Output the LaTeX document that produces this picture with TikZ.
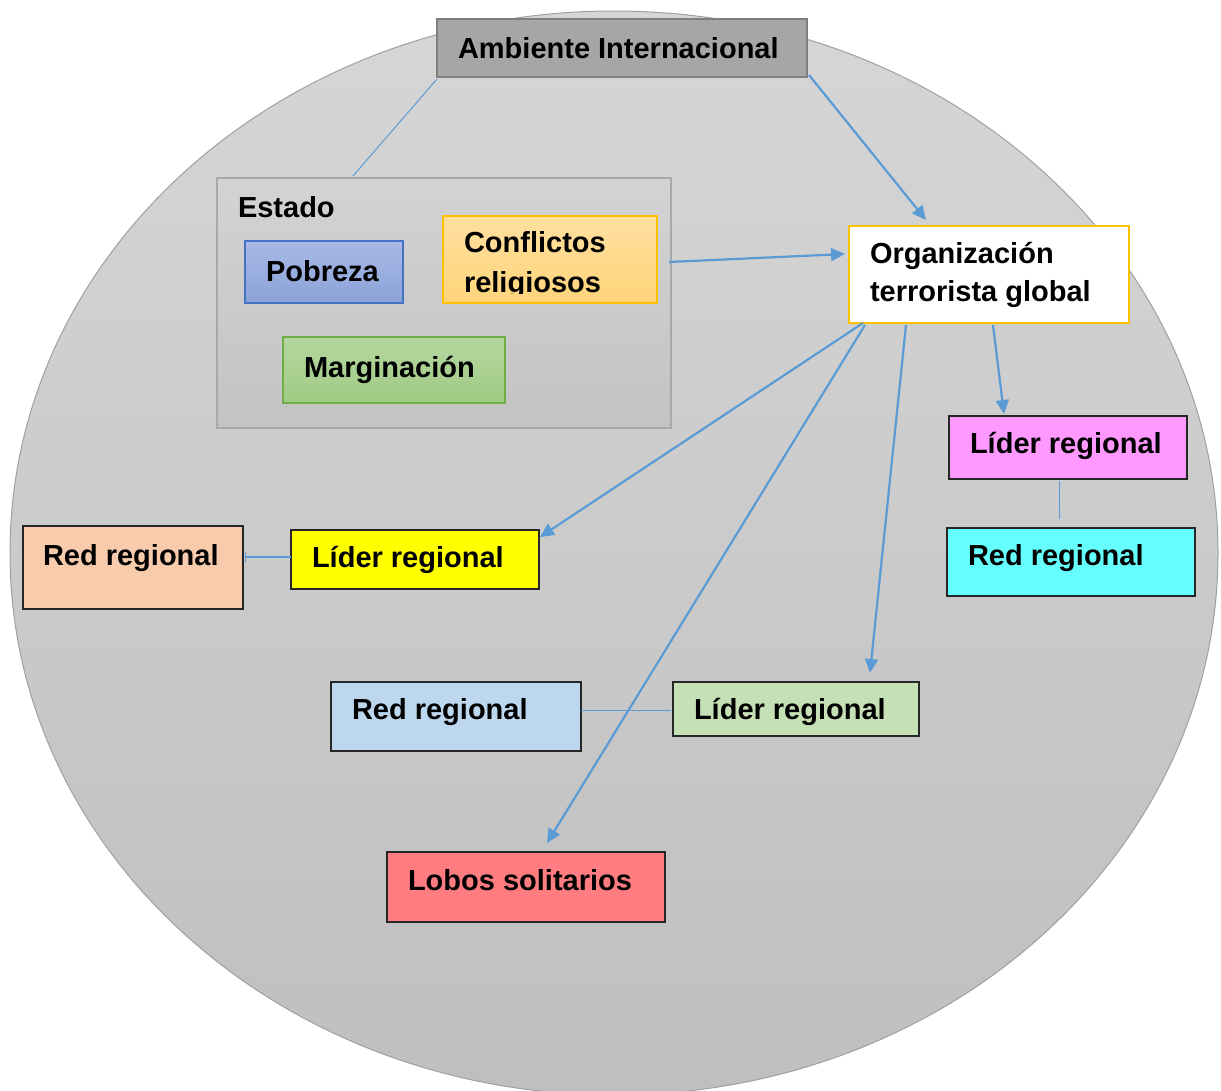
\documentclass[tikz,border=0pt]{standalone}
\usepackage{fontspec}
\setmainfont{Liberation Sans}
\usetikzlibrary{arrows.meta,calc}
\definecolor{linkblue}{HTML}{5B9BD5}
\definecolor{circtop}{HTML}{D6D6D6}
\definecolor{circbot}{HTML}{BFBFBF}
\definecolor{circline}{HTML}{A0A0A0}
\definecolor{ambfill}{HTML}{A6A6A6}
\definecolor{ambline}{HTML}{7F7F7F}
\definecolor{esttop}{HTML}{D3D3D3}
\definecolor{estbot}{HTML}{C3C3C3}
\definecolor{estline}{HTML}{A8A8A8}
\definecolor{pobtop}{HTML}{A9B9E6}
\definecolor{pobbot}{HTML}{8AA3D9}
\definecolor{pobline}{HTML}{4472C4}
\definecolor{conftop}{HTML}{FFE0A0}
\definecolor{confbot}{HTML}{FFD47A}
\definecolor{orange1}{HTML}{FFC000}
\definecolor{margtop}{HTML}{B5D6A0}
\definecolor{margbot}{HTML}{9FCB83}
\definecolor{margline}{HTML}{70AD47}
\definecolor{pinkf}{HTML}{FF99FF}
\definecolor{cyanf}{HTML}{66FFFF}
\definecolor{peachf}{HTML}{F8CBAD}
\definecolor{yellowf}{HTML}{FFFF00}
\definecolor{lbluef}{HTML}{BDD7EE}
\definecolor{lgreenf}{HTML}{C5E0B4}
\definecolor{redf}{HTML}{FF7C80}
\begin{document}
\begin{tikzpicture}[x=1pt,y=-1pt,
  box/.style={draw=black!85, line width=1.3pt, inner sep=0pt, outer sep=0pt, anchor=north west},
  lbl/.style={font=\fontsize{29}{38}\selectfont\bfseries, anchor=base west, inner sep=0pt, outer sep=0pt},
  link/.style={draw=linkblue, line width=2.2pt},
  thinlink/.style={draw=linkblue, line width=1pt},
  arr/.style={link, -{Triangle[length=14pt,width=13pt]}},
]
\useasboundingbox (0,0) rectangle (1221,1090);
\clip (0,0) rectangle (1221,1090);
% big ellipse
\path[top color=circtop, bottom color=circbot, draw=circline, line width=1pt] (614,553) ellipse [x radius=604pt, y radius=542pt];

% boxes
\node[box, draw=ambline, line width=2.5pt, fill=ambfill, minimum width=370pt, minimum height=58pt] (amb) at (437,19) {};
\node[box, draw=estline, line width=1.5pt, top color=esttop, bottom color=estbot, minimum width=454pt, minimum height=250pt] (est) at (217,178) {};
\node[box, draw=pobline, top color=pobtop, bottom color=pobbot, minimum width=158pt, minimum height=62pt] (pob) at (245,241) {};
\node[box, draw=orange1, top color=conftop, bottom color=confbot, minimum width=214pt, minimum height=87pt] (conf) at (443,216) {};
\node[box, draw=margline, top color=margtop, bottom color=margbot, minimum width=222pt, minimum height=66pt] (marg) at (283,337) {};
\node[box, draw=orange1, line width=2.5pt, fill=white, minimum width=280pt, minimum height=97pt] (org) at (849,226) {};
\node[box, fill=pinkf, minimum width=238pt, minimum height=63pt] (pink) at (949,416) {};
\node[box, fill=cyanf, minimum width=248pt, minimum height=68pt] (cyan) at (947,528) {};
\node[box, fill=peachf, minimum width=220pt, minimum height=83pt] (peach) at (23,526) {};
\node[box, fill=yellowf, minimum width=248pt, minimum height=59pt] (yell) at (291,530) {};
\node[box, fill=lbluef, minimum width=250pt, minimum height=69pt] (lblue) at (331,682) {};
\node[box, fill=lgreenf, minimum width=246pt, minimum height=54pt] (lgreen) at (673,682) {};
\node[box, fill=redf, minimum width=278pt, minimum height=70pt] (lobos) at (387,852) {};

% texts
\node[lbl] (ambT) at (458,58) {Ambiente Internacional};
\node[lbl] (estT) at (238,217) {Estado};
\node[lbl] (pobT) at (266,281) {Pobreza};
\node[lbl] (confT) at (464,252) {Conflictos};
\begin{scope}
\clip (443,216) rectangle (657,293);
\node[lbl] (confT2) at (464,292) {religiosos};
\end{scope}
\node[lbl] (margT) at (304,377) {Marginación};
\node[lbl] (orgT) at (870,263) {Organización};
\node[lbl] (orgT2) at (870,301) {terrorista global};
\node[lbl] (pinkT) at (970,453) {Líder regional};
\node[lbl] (cyanT) at (968,565) {Red regional};
\node[lbl] (peachT) at (43,565) {Red regional};
\node[lbl] (yellT) at (312,567) {Líder regional};
\node[lbl] (lblueT) at (352,719) {Red regional};
\node[lbl] (lgreenT) at (694,719) {Líder regional};
\node[lbl] (lobosT) at (408,890) {Lobos solitarios};

% connectors
\draw[thinlink] ($(amb.north west)+(0,60)$) -- ($(est.north west)+(136,-2)$);
\draw[arr] ($(amb.north west)+(372,56)$) -- ($(org.north west)+(77,-6)$);
\draw[arr] ($(conf.north west)+(226,46)$) -- ($(org.north west)+(-4,28)$);
\draw[arr] ($(org.north west)+(14,97)$) -- ($(yell.north west)+(249,7)$);
\draw[arr] ($(org.north west)+(16,99)$) -- ($(lobos.north west)+(160,-9)$);
\draw[arr] ($(org.north west)+(57,99)$) -- ($(lgreen.north west)+(197,-9)$);
\draw[arr] ($(org.north west)+(144,99)$) -- ($(pink.north west)+(55,-2)$);
\draw[thinlink] ($(pink.north west)+(110,65)$) -- ($(cyan.north west)+(112,-9)$);
\draw[link, {Bar[width=10pt,line width=1.2pt]}-] ($(peach.north west)+(221.5,31)$) -- ($(yell.north west)+(0,27)$);
\draw[thinlink] ($(lblue.north west)+(250,28)$) -- ($(lgreen.north west)+(-2,28)$);
\end{tikzpicture}
\end{document}
